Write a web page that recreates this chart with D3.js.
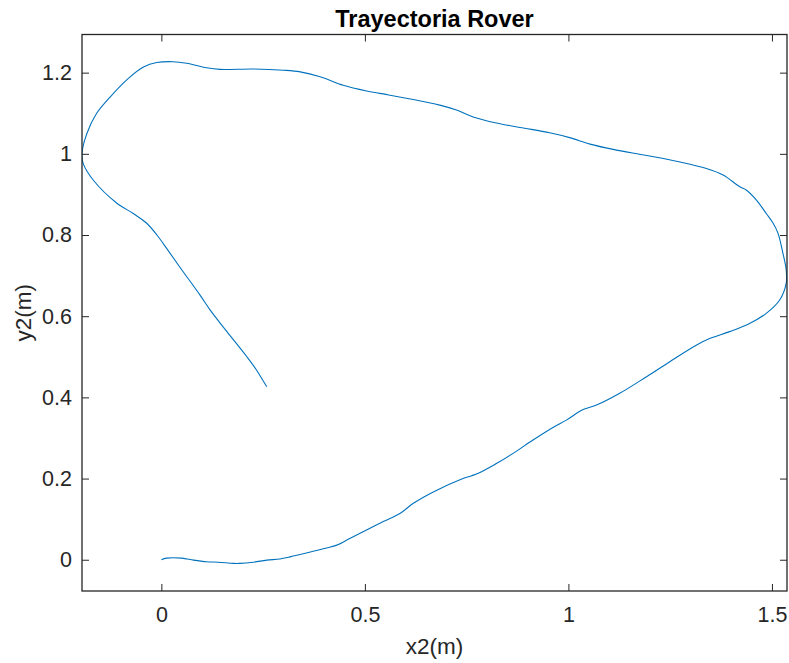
<!DOCTYPE html>
<html>
<head>
<meta charset="utf-8">
<script src="https://cdn.jsdelivr.net/npm/d3@7"></script>
<style>
  html, body { margin: 0; padding: 0; background: #fff; }
  svg { display: block; }
  text { font-family: "Liberation Sans", Arial, Helvetica, sans-serif; fill: #262626; }
</style>
</head>
<body>
<div id="chart"></div>
<script>
// Data
const title = "Trayectoria Rover";
const xLabel = "x2(m)";
const yLabel = "y2(m)";
const xTicks = [0, 0.5, 1, 1.5];
const yTicks = [0, 0.2, 0.4, 0.6, 0.8, 1, 1.2];
const xDomain = [-0.195, 1.537];
const yDomain = [-0.077, 1.294];

const xs = [0.000, 0.013, 0.050, 0.079, 0.111, 0.140, 0.177, 0.193, 0.226, 0.259, 0.291, 0.316, 0.341, 0.373, 0.406, 0.431, 0.464, 0.504, 0.545, 0.586, 0.619, 0.668, 0.741, 0.774, 0.823, 0.864, 0.913, 0.962, 0.995, 1.036, 1.069, 1.126, 1.192, 1.249, 1.315, 1.347, 1.396, 1.445, 1.486, 1.519, 1.535, 1.535, 1.527, 1.515, 1.503, 1.486, 1.462, 1.437, 1.421, 1.380, 1.339, 1.274, 1.192, 1.110, 1.053, 1.003, 0.954, 0.881, 0.823, 0.766, 0.725, 0.684, 0.619, 0.537, 0.504, 0.447, 0.390, 0.341, 0.300, 0.226, 0.144, 0.111, 0.062, 0.029, -0.011, -0.044, -0.081, -0.126, -0.159, -0.183, -0.195, -0.192, -0.167, -0.110, -0.069, -0.036, -0.011, 0.013, 0.046, 0.095, 0.120, 0.161, 0.210, 0.234, 0.259];
const ys = [0.000, 0.004, 0.004, -0.001, -0.005, -0.006, -0.009, -0.009, -0.006, -0.001, 0.002, 0.007, 0.013, 0.021, 0.029, 0.036, 0.053, 0.073, 0.094, 0.114, 0.139, 0.167, 0.200, 0.211, 0.237, 0.262, 0.295, 0.326, 0.344, 0.370, 0.381, 0.410, 0.451, 0.488, 0.529, 0.545, 0.562, 0.582, 0.607, 0.640, 0.681, 0.714, 0.755, 0.804, 0.829, 0.853, 0.886, 0.911, 0.919, 0.948, 0.964, 0.980, 0.996, 1.011, 1.024, 1.040, 1.052, 1.065, 1.076, 1.091, 1.108, 1.120, 1.134, 1.149, 1.155, 1.169, 1.190, 1.202, 1.206, 1.209, 1.208, 1.212, 1.223, 1.227, 1.225, 1.214, 1.186, 1.140, 1.100, 1.050, 1.001, 0.976, 0.935, 0.879, 0.853, 0.829, 0.800, 0.767, 0.720, 0.652, 0.615, 0.562, 0.500, 0.467, 0.426];

const W = 789, H = 663;
const plot = { left: 82, top: 34.5, right: 787, bottom: 591 };
const axisColor = "#262626";
const lineColor = "#0072BD";
const tickLen = 7;

const svg = d3.select("#chart").append("svg").attr("width", W).attr("height", H);

const x = d3.scaleLinear().domain(xDomain).range([plot.left, plot.right]);
const y = d3.scaleLinear().domain(yDomain).range([plot.bottom, plot.top]);

svg.append("defs").append("clipPath").attr("id", "clip")
  .append("rect").attr("x", plot.left).attr("y", plot.top)
  .attr("width", plot.right - plot.left).attr("height", plot.bottom - plot.top);

const pts = xs.map((v, i) => [v, ys[i]]);
svg.append("path")
  .datum(pts)
  .attr("clip-path", "url(#clip)")
  .attr("fill", "none")
  .attr("stroke", lineColor)
  .attr("stroke-width", 1.1)
  .attr("stroke-linejoin", "round")
  .attr("d", d3.line().x(d => x(d[0])).y(d => y(d[1])).curve(d3.curveCatmullRom.alpha(0.5)));

function styleAxis(g) {
  g.select(".domain").remove();
  g.selectAll(".tick line").attr("stroke", axisColor).attr("stroke-width", 1);
  g.selectAll(".tick text").attr("fill", axisColor).style("font-size", "21.5px")
    .style("font-family", '"Liberation Sans", Arial, sans-serif');
}
const fmt = d => String(d);

svg.append("g").attr("transform", `translate(0,${plot.bottom})`)
  .call(d3.axisBottom(x).tickValues(xTicks).tickFormat(fmt).tickSizeInner(-tickLen).tickSizeOuter(0).tickPadding(16))
  .call(styleAxis);
svg.append("g").attr("transform", `translate(0,${plot.top})`)
  .call(d3.axisTop(x).tickValues(xTicks).tickFormat("").tickSizeInner(-tickLen).tickSizeOuter(0))
  .call(styleAxis);
svg.append("g").attr("transform", `translate(${plot.left},0)`)
  .call(d3.axisLeft(y).tickValues(yTicks).tickFormat(fmt).tickSizeInner(-tickLen).tickSizeOuter(0).tickPadding(10))
  .call(styleAxis);
svg.append("g").attr("transform", `translate(${plot.right},0)`)
  .call(d3.axisRight(y).tickValues(yTicks).tickFormat("").tickSizeInner(-tickLen).tickSizeOuter(0))
  .call(styleAxis);

svg.append("rect")
  .attr("x", plot.left).attr("y", plot.top)
  .attr("width", plot.right - plot.left).attr("height", plot.bottom - plot.top)
  .attr("fill", "none").attr("stroke", axisColor).attr("stroke-width", 1.3);

svg.append("text")
  .attr("x", (plot.left + plot.right) / 2).attr("y", 27)
  .attr("text-anchor", "middle")
  .style("font-size", "23.5px").style("font-weight", "bold").style("fill", "#000")
  .text(title);

svg.append("text")
  .attr("x", (plot.left + plot.right) / 2).attr("y", 654)
  .attr("text-anchor", "middle")
  .style("font-size", "22.5px")
  .text(xLabel);

svg.append("text")
  .attr("transform", `translate(31,${(plot.top + plot.bottom) / 2}) rotate(-90)`)
  .attr("text-anchor", "middle")
  .style("font-size", "22.5px")
  .text(yLabel);
</script>
</body>
</html>
